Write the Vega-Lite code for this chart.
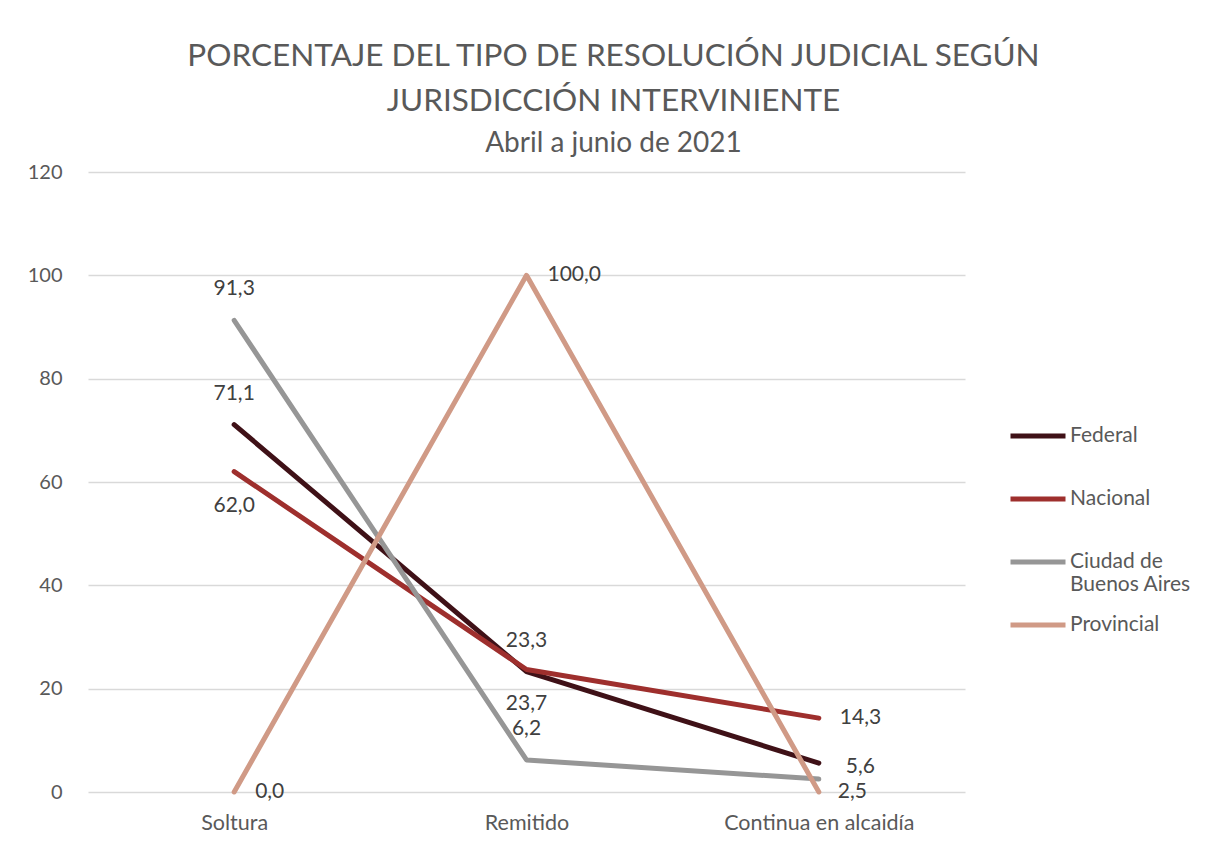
{
  "$schema": "https://vega.github.io/schema/vega-lite/v6.json",
  "width": 877,
  "height": 620,
  "autosize": {"type": "none"},
  "padding": {"left": 88, "top": 172, "right": 249, "bottom": 49},
  "background": "white",
  "title": {
    "text": ["PORCENTAJE DEL TIPO DE RESOLUCIÓN JUDICIAL SEGÚN", "JURISDICCIÓN INTERVINIENTE"],
    "subtitle": "Abril a junio de 2021",
    "font": "Lato",
    "fontSize": 31.5,
    "fontWeight": "normal",
    "color": "#595959",
    "subtitleFont": "Lato",
    "subtitleFontSize": 28,
    "subtitleColor": "#595959",
    "anchor": "middle",
    "dx": 87,
    "lineHeight": 45,
    "subtitlePadding": 13,
    "offset": 4
  },
  "config": {
    "view": {"stroke": null},
    "locale": {"number": {"decimal": ",", "thousands": ".", "grouping": [3], "currency": ["$", ""]}},
    "axis": {"labelFont": "Lato", "labelFontSize": 20, "labelColor": "#595959", "domain": false, "ticks": false, "title": null}
  },
  "data": {
    "values": [
      {"serie": "Federal", "cat": "Soltura", "valor": 71.1},
      {"serie": "Federal", "cat": "Remitido", "valor": 23.3},
      {"serie": "Federal", "cat": "Continua en alcaidía", "valor": 5.6},
      {"serie": "Nacional", "cat": "Soltura", "valor": 62.0},
      {"serie": "Nacional", "cat": "Remitido", "valor": 23.7},
      {"serie": "Nacional", "cat": "Continua en alcaidía", "valor": 14.3},
      {"serie": "Ciudad de Buenos Aires", "cat": "Soltura", "valor": 91.3},
      {"serie": "Ciudad de Buenos Aires", "cat": "Remitido", "valor": 6.2},
      {"serie": "Ciudad de Buenos Aires", "cat": "Continua en alcaidía", "valor": 2.5},
      {"serie": "Provincial", "cat": "Soltura", "valor": 0.0},
      {"serie": "Provincial", "cat": "Remitido", "valor": 100.0},
      {"serie": "Provincial", "cat": "Continua en alcaidía", "valor": 0.0}
    ]
  },
  "encoding": {
    "x": {
      "field": "cat",
      "type": "nominal",
      "sort": ["Soltura", "Remitido", "Continua en alcaidía"],
      "axis": {"labelAngle": 0, "labelPadding": 20, "labelFontSize": 21.5, "labelLimit": 400, "labelOverlap": false, "grid": false}
    },
    "y": {
      "field": "valor",
      "type": "quantitative",
      "scale": {"domain": [0, 120], "nice": false},
      "axis": {"values": [0, 20, 40, 60, 80, 100, 120], "grid": true, "gridColor": "#d9d9d9", "gridWidth": 1.5, "labelPadding": 26}
    }
  },
  "layer": [
    {
      "mark": {"type": "line", "strokeWidth": 5, "strokeCap": "round", "strokeJoin": "round"},
      "encoding": {
        "color": {
          "field": "serie",
          "type": "nominal",
          "sort": ["Federal", "Nacional", "Ciudad de Buenos Aires", "Provincial"],
          "scale": {"domain": ["Federal", "Nacional", "Ciudad de Buenos Aires", "Provincial"], "range": ["#3f1117", "#9e2f2d", "#969696", "#d09a86"]},
          "legend": {
            "orient": "none",
            "legendX": 920,
            "legendY": 234,
            "title": null,
            "symbolType": "stroke",
            "symbolSize": 3025,
            "symbolStrokeWidth": 5,
            "labelFont": "Lato",
            "labelFontSize": 21,
            "labelColor": "#595959",
            "labelOffset": 2,
            "gridAlign": "all",
            "rowPadding": 0,
            "labelLimit": 300,
            "labelExpr": "datum.label == 'Ciudad de Buenos Aires' ? ['Ciudad de', 'Buenos Aires'] : datum.label"
          }
        }
      }
    },
    {
      "transform": [{"filter": "(datum.serie == 'Ciudad de Buenos Aires' || datum.serie == 'Federal') && datum.cat != 'Continua en alcaidía'"}],
      "mark": {"type": "text", "font": "Lato", "fontSize": 21, "color": "#404040", "dy": -31},
      "encoding": {"text": {"field": "valor", "type": "quantitative", "format": ".1f"}}
    },
    {
      "transform": [{"filter": "datum.serie == 'Nacional' && datum.cat != 'Continua en alcaidía'"}],
      "mark": {"type": "text", "font": "Lato", "fontSize": 21, "color": "#404040", "dy": 34},
      "encoding": {"text": {"field": "valor", "type": "quantitative", "format": ".1f"}}
    },
    {
      "transform": [{"filter": "(datum.serie == 'Provincial' && datum.cat != 'Continua en alcaidía') || (datum.serie == 'Nacional' && datum.cat == 'Continua en alcaidía')"}],
      "mark": {"type": "text", "font": "Lato", "fontSize": 21, "color": "#404040", "align": "left", "dx": 21, "dy": 0},
      "encoding": {"text": {"field": "valor", "type": "quantitative", "format": ".1f"}}
    },
    {
      "transform": [{"filter": "datum.serie == 'Federal' && datum.cat == 'Continua en alcaidía'"}],
      "mark": {"type": "text", "font": "Lato", "fontSize": 21, "color": "#404040", "align": "left", "dx": 27, "dy": 4},
      "encoding": {"text": {"field": "valor", "type": "quantitative", "format": ".1f"}}
    },
    {
      "transform": [{"filter": "datum.serie == 'Ciudad de Buenos Aires' && datum.cat == 'Continua en alcaidía'"}],
      "mark": {"type": "text", "font": "Lato", "fontSize": 21, "color": "#404040", "align": "left", "dx": 19, "dy": 13},
      "encoding": {"text": {"field": "valor", "type": "quantitative", "format": ".1f"}}
    }
  ]
}
